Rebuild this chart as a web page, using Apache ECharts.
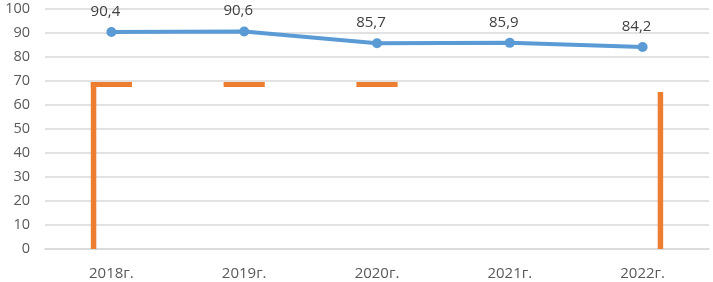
<!DOCTYPE html>
<html>
<head>
<meta charset="utf-8">
<script src="https://cdn.jsdelivr.net/npm/echarts@6/dist/echarts.min.js"></script>
<style>
  html, body { margin: 0; padding: 0; background: #fff; }
  #chart { width: 713px; height: 282px; }
</style>
</head>
<body>
<div id="chart"></div>
<script>
var years = ['2018г.', '2019г.', '2020г.', '2021г.', '2022г.']
var lineValues = [90.4, 90.6, 85.7, 85.9, 84.2]
// оранжевые элементы: верх горизонтальных черточек и вертикальные столбики
var capValues = [69.6, 69.6, 69.6, null, null]
var stemValues = [69.6, null, null, null, 65.4]
var yTicks = [0, 10, 20, 30, 40, 50, 60, 70, 80, 90, 100]

var chart = echarts.init(document.getElementById('chart'))

function capItem(params, api) {
  var v = api.value(1)
  if (v == null || isNaN(v)) return
  var p = api.coord([api.value(0), v])
  var band = api.size([1, 0])[0]
  var half = band * 0.155
  return {
    type: 'rect',
    shape: { x: p[0] - half, y: p[1], width: half * 2, height: 5 },
    style: { fill: '#ED7D31' }
  }
}

function stemItem(params, api) {
  var v = api.value(1)
  if (v == null || isNaN(v)) return
  var idx = api.value(0)
  var p = api.coord([idx, v])
  var p0 = api.coord([idx, 0])
  var band = api.size([1, 0])[0]
  var half = band * 0.155
  var w = 5.5
  // первый столбик у левого края, последний у правого
  var x = idx === 0 ? p[0] - half : p[0] + half - w
  return {
    type: 'rect',
    shape: { x: x, y: p[1], width: w, height: p0[1] - p[1] },
    style: { fill: '#ED7D31' }
  }
}

var option = {
  animation: false,
  grid: { left: 45, right: 4, top: 9, bottom: 33 },
  xAxis: {
    type: 'category',
    data: years,
    boundaryGap: true,
    axisTick: { show: false },
    axisLine: { lineStyle: { color: '#d9d9d9', width: 1.5 } },
    axisLabel: {
      color: '#595959',
      fontSize: 15,
      fontFamily: 'Open Sans',
      margin: 17
    }
  },
  yAxis: {
    type: 'value',
    min: yTicks[0],
    max: yTicks[yTicks.length - 1],
    interval: 10,
    axisLine: { show: false },
    axisTick: { show: false },
    splitLine: { lineStyle: { color: '#d9d9d9', width: 1.5 } },
    axisLabel: {
      color: '#595959',
      fontSize: 14.5,
      fontFamily: 'Open Sans',
      margin: 15
    }
  },
  series: [
    {
      type: 'custom',
      renderItem: capItem,
      data: capValues.map(function(v, i) { return [i, v] }),
      z: 2
    },
    {
      type: 'custom',
      renderItem: stemItem,
      data: stemValues.map(function(v, i) { return [i, v] }),
      z: 2
    },
    {
      type: 'line',
      data: lineValues,
      symbol: 'circle',
      symbolSize: 10,
      z: 3,
      lineStyle: { color: '#5B9BD5', width: 4 },
      itemStyle: { color: '#5B9BD5' },
      label: {
        show: true,
        position: 'top',
        distance: 7,
        offset: [-6, -1],
        color: '#404040',
        fontSize: 15,
        fontFamily: 'Open Sans',
        formatter: function(p) {
          return String(p.value).replace('.', ',')
        }
      }
    }
  ]
}
chart.setOption(option)
</script>
</body>
</html>
